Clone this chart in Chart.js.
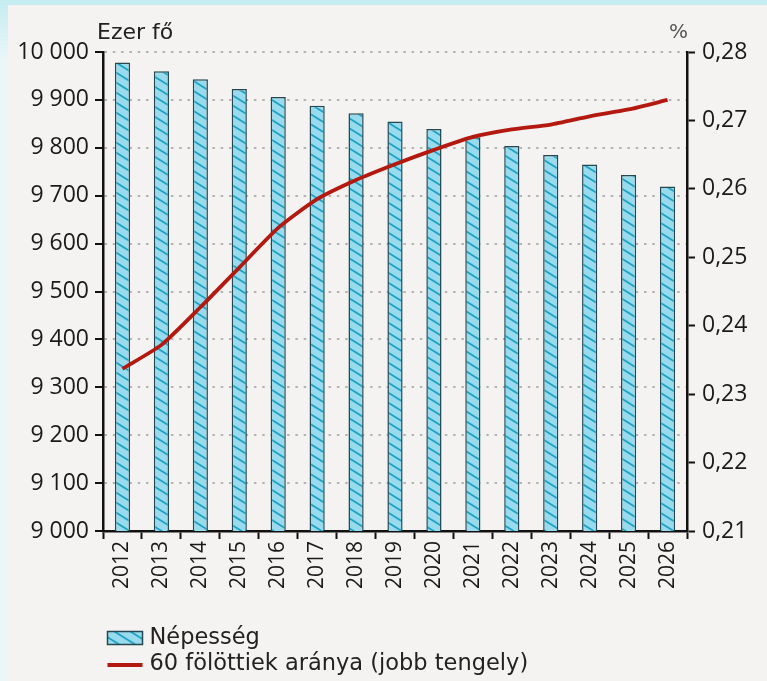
<!DOCTYPE html>
<html><head><meta charset="utf-8">
<script src="https://cdn.jsdelivr.net/npm/chart.js@4"></script>
<style>html,body{margin:0;padding:0;background:#f4f3f1;overflow:hidden}canvas{display:block}</style>
</head><body>
<canvas id="c" width="767" height="681"></canvas>
<script>
// ---- data ----
const years = ['2012','2013','2014','2015','2016','2017','2018','2019','2020','2021','2022','2023','2024','2025','2026'];
const population = [9978, 9960, 9943, 9923, 9906, 9888, 9872, 9855, 9839, 9822, 9804, 9785, 9765, 9743, 9719];
const share60 = [0.2337, 0.2372, 0.2427, 0.2485, 0.2543, 0.2585, 0.2613, 0.2636, 0.2657, 0.2676, 0.2687, 0.2694, 0.2706, 0.2716, 0.2730];
const seriesNames = ['Népesség', '60 fölöttiek aránya (jobb tengely)'];
const leftTitle = 'Ezer fő';
const rightTitle = '%';
const leftMin = 9000, leftMax = 10000, leftStep = 100;
const rightMin = 0.21, rightMax = 0.28, rightStep = 0.01;

// ---- styles ----
const tickFont = {family: '"Open Sans", sans-serif', size: 23};
const xTickFont = {family: '"Open Sans", sans-serif', size: 21};
const textColor = '#1a1a1a';
const axisColor = '#111111';
const barBorder = '#26474f';
const lineColor = '#b3190f';

const canvas = document.getElementById('c');
const ctx0 = canvas.getContext('2d');

function makeHatch() {
  const c = document.createElement('canvas');
  c.width = 16; c.height = 10;
  const x = c.getContext('2d');
  x.fillStyle = '#98daee';
  x.fillRect(0, 0, 16, 10);
  x.strokeStyle = '#1ca2c0';
  x.lineWidth = 1.8;
  for (const dy of [-10, 0, 10]) {
    x.beginPath();
    x.moveTo(-16, dy - 10);
    x.lineTo(32, dy + 20);
    x.stroke();
  }
  return ctx0.createPattern(c, 'repeat');
}
const hatch = makeHatch();

const fmtThousands = v => Math.round(v).toString().replace(/\B(?=(\d{3})+(?!\d))/g, ' ');

const backgroundPlugin = {
  id: 'bg',
  beforeDraw(chart) {
    const ctx = chart.ctx;
    const W = chart.width, H = chart.height;
    ctx.save();
    ctx.fillStyle = '#eaf6f8';
    ctx.fillRect(0, 0, W, H);
    const g = ctx.createLinearGradient(0, 0, 0, 60);
    g.addColorStop(0, '#c4ecf1');
    g.addColorStop(1, '#eaf6f8');
    ctx.fillStyle = g;
    ctx.fillRect(0, 0, W, 60);
    ctx.fillStyle = '#f4f3f1';
    ctx.fillRect(8, 5, W - 8, H - 5);
    ctx.restore();
  }
};

const titlesPlugin = {
  id: 'axisTitles',
  afterDraw(chart) {
    const ctx = chart.ctx;
    const a = chart.chartArea;
    ctx.save();
    ctx.textBaseline = 'alphabetic';
    ctx.fillStyle = '#222';
    ctx.font = '22px "DejaVu Sans", sans-serif';
    ctx.textAlign = 'left';
    ctx.fillText(leftTitle, a.left - 6, a.top - 13);
    ctx.fillStyle = '#555';
    ctx.font = '20px "DejaVu Sans", sans-serif';
    ctx.textAlign = 'right';
    ctx.fillText(rightTitle, a.right + 1, a.top - 14);
    ctx.restore();
  }
};

// stacked two-row legend under the axis
const legendPlugin = {
  id: 'stackedLegend',
  afterDraw(chart) {
    const ctx = chart.ctx;
    const a = chart.chartArea;
    const x0 = a.left + 4.5;
    const row1 = 638, row2 = 664;
    ctx.save();
    ctx.fillStyle = hatch;
    ctx.fillRect(x0, row1 - 6.5, 35, 13);
    ctx.strokeStyle = barBorder;
    ctx.lineWidth = 1.5;
    ctx.strokeRect(x0, row1 - 6.5, 35, 13);
    ctx.strokeStyle = lineColor;
    ctx.lineWidth = 4;
    ctx.beginPath();
    ctx.moveTo(x0, row2 + 1);
    ctx.lineTo(x0 + 35, row2 + 1);
    ctx.stroke();
    ctx.fillStyle = '#222';
    ctx.font = '22.5px "DejaVu Sans", sans-serif';
    ctx.textAlign = 'left';
    ctx.textBaseline = 'middle';
    ctx.fillText(seriesNames[0], x0 + 42, row1);
    ctx.fillText(seriesNames[1], x0 + 42, row2);
    ctx.restore();
  }
};

new Chart(canvas, {
  type: 'bar',
  data: {
    labels: years,
    datasets: [
      {
        type: 'bar',
        label: seriesNames[0],
        data: population,
        yAxisID: 'y',
        backgroundColor: hatch,
        borderColor: barBorder,
        borderWidth: 1.5,
        barPercentage: 0.39,
        categoryPercentage: 1,
        order: 2
      },
      {
        type: 'line',
        label: seriesNames[1],
        data: share60,
        yAxisID: 'y1',
        borderColor: lineColor,
        backgroundColor: lineColor,
        borderWidth: 3.8,
        pointRadius: 0,
        tension: 0.2,
        fill: false,
        order: 1
      }
    ]
  },
  options: {
    responsive: false,
    animation: false,
    layout: {padding: {top: 52, left: 0, right: 0, bottom: 70}},
    plugins: {
      tooltip: {enabled: false},
      legend: {display: false}
    },
    scales: {
      x: {
        type: 'category',
        offset: true,
        grid: {offset: true, drawOnChartArea: false, drawTicks: true, tickLength: 8, tickColor: axisColor, tickWidth: 2, color: axisColor},
        border: {color: axisColor, width: 2.5},
        ticks: {autoSkip: false, maxRotation: 90, minRotation: 90, padding: 2, font: xTickFont, color: textColor},
        afterFit: s => { s.height = 80; }
      },
      y: {
        position: 'left',
        min: leftMin,
        max: leftMax,
        grid: {
          color: c => (c.tick && c.tick.value === leftMin) ? 'rgba(0,0,0,0)' : '#b3b3b3',
          lineWidth: 2,
          tickColor: axisColor,
          tickWidth: 2,
          tickLength: 8,
          tickBorderDash: []
        },
        border: {color: axisColor, width: 2.5, dash: [2.5, 5.8]},
        ticks: {stepSize: leftStep, padding: 6, font: tickFont, color: textColor, callback: v => fmtThousands(v)},
        afterFit: s => { s.width = 103; }
      },
      y1: {
        position: 'right',
        min: rightMin,
        max: rightMax,
        grid: {drawOnChartArea: false, tickColor: axisColor, tickWidth: 2, tickLength: 8},
        border: {color: axisColor, width: 2.5},
        ticks: {stepSize: rightStep, padding: 7, font: tickFont, color: textColor, callback: v => v.toFixed(2).replace('.', ',')},
        afterFit: s => { s.width = 80; }
      }
    }
  },
  plugins: [backgroundPlugin, titlesPlugin, legendPlugin]
});
</script>
</body></html>
